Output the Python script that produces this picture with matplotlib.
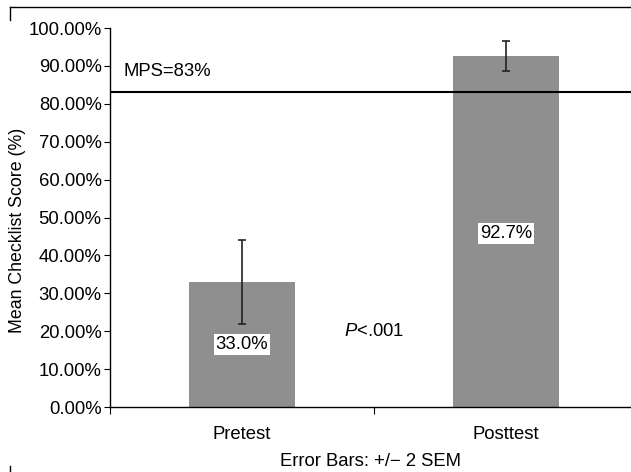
import matplotlib
matplotlib.use("Agg")
import matplotlib.pyplot as plt
from matplotlib.lines import Line2D

categories = ["Pretest", "Posttest"]
means = [33.0, 92.7]
errors = [11.0, 4.0]
value_labels = ["33.0%", "92.7%"]
label_y = [16.4, 45.9]
mps = 83
yticks = [0, 10, 20, 30, 40, 50, 60, 70, 80, 90, 100]

plt.rcParams['font.family'] = ['Liberation Sans', 'DejaVu Sans']
plt.rcParams['mathtext.fontset'] = 'custom'
plt.rcParams['mathtext.it'] = 'Liberation Sans:italic'
plt.rcParams['mathtext.rm'] = 'Liberation Sans'
FS = 13.3
W, H = 631, 472
fig = plt.figure(figsize=(W / 100, H / 100), dpi=100)
left, right, top, bottom = 110, 638, 28, 407
ax = fig.add_axes([left / W, 1 - bottom / H, (right - left) / W, (bottom - top) / H])

x = range(len(categories))
ax.bar(x, means, width=0.40, color="#8f8f8f", zorder=2)
ax.errorbar(x, means, yerr=errors, fmt="none", ecolor="#222222", elinewidth=1.2,
            capsize=3, capthick=1.2, zorder=3)
ax.axhline(mps, color="black", lw=1.5, zorder=4)

for xi, lab, ly in zip(x, value_labels, label_y):
    ax.text(xi, ly, lab, ha="center", va="center", fontsize=FS,
            bbox=dict(facecolor="white", edgecolor="none", pad=1.5), zorder=5)

ax.text(-0.45, 88.4, "MPS=83%", ha="left", va="center", fontsize=FS)
ax.text(0.5, 19.8, r"$P$<.001", ha="center", va="center", fontsize=FS)

ax.set_xlim(-0.5, 1.5)
ax.set_ylim(0, 100)
ax.set_yticks(yticks)
ax.set_yticklabels([f"{v:.2f}%" for v in yticks], fontsize=FS)
ax.set_xticks([-0.5, 0.5, 1.5])
ax.set_xticklabels([])
ax.set_xticks([0, 1], minor=True)
ax.set_xticklabels(categories, minor=True, fontsize=FS)
ax.tick_params(axis="x", which="minor", length=0, pad=14)
ax.tick_params(axis="x", which="major", length=5, direction="out")
ax.tick_params(axis="y", length=4, direction="out", pad=2)
for s in ["top", "right"]:
    ax.spines[s].set_visible(False)
ax.spines["left"].set_linewidth(1)
ax.spines["bottom"].set_linewidth(1)
ax.set_ylabel("Mean Checklist Score (%)", fontsize=12.8, va="center")
ax.yaxis.set_label_coords((17 - left) / (right - left), 0.465)

fig.text(370 / W, 1 - 462 / H, "Error Bars: +/\u2212 2 SEM", ha="center", va="center", fontsize=FS)

# outer frame fragments
fig.add_artist(Line2D([10 / W, 1], [1 - 7 / H, 1 - 7 / H], color="black", lw=1))
fig.add_artist(Line2D([10 / W, 10 / W], [1 - 7 / H, 1 - 20 / H], color="black", lw=1))
fig.add_artist(Line2D([10 / W, 10 / W], [1 - 466 / H, 0], color="black", lw=1))

fig.savefig("out.png", dpi=100)
